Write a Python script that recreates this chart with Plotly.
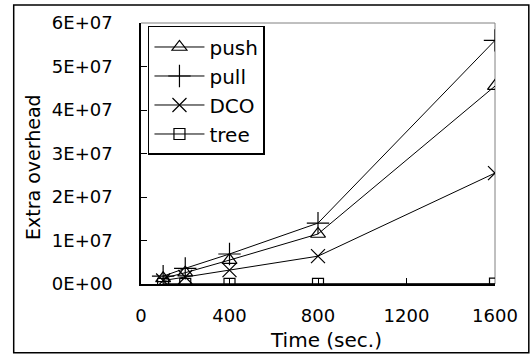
import plotly.graph_objects as go

times = [100, 200, 400, 800, 1600]
push = [1.3e6, 2.6e6, 5.5e6, 11.5e6, 45.5e6]
pull = [1.8e6, 3.6e6, 6.9e6, 14.0e6, 56.0e6]
dco = [0.8e6, 1.6e6, 3.2e6, 6.4e6, 25.5e6]
tree = [0.05e6, 0.05e6, 0.05e6, 0.05e6, 0.08e6]

series_names = ["push", "pull", "DCO", "tree"]
series_vals = [push, pull, dco, tree]
symbols = ["triangle-up-open", "cross-thin-open", "x-thin-open", "square-open"]
sizes = [13, 16, 14, 11]

x_ticks = [0, 400, 800, 1200, 1600]
y_ticks = [0, 1e7, 2e7, 3e7, 4e7, 5e7, 6e7]
y_tick_labels = ["0E+00", "1E+07", "2E+07", "3E+07", "4E+07", "5E+07", "6E+07"]

FONT = "DejaVu Sans"

fig = go.Figure()
for name, vals, sym, sz in zip(series_names, series_vals, symbols, sizes):
    fig.add_trace(go.Scatter(
        x=times, y=vals, name=name, mode="lines+markers",
        line=dict(color="black", width=1),
        marker=dict(symbol=sym, size=sz, color="black",
                    line=dict(color="black", width=1.2)),
    ))

fig.update_layout(
    width=530, height=356,
    margin=dict(l=141, r=33, t=22, b=72),
    paper_bgcolor="white", plot_bgcolor="white",
    font=dict(family=FONT, color="black", size=18),
    showlegend=True,
    legend=dict(
        x=(148 - 141) / 356, y=(284 - 25) / 262, xanchor="left", yanchor="top",
        bgcolor="white", bordercolor="black", borderwidth=1.5,
        font=dict(family=FONT, size=20, color="black"),
        itemwidth=50,
    ),
    xaxis=dict(
        range=[0, 1600], tickvals=x_ticks, ticks="inside", ticklen=6,
        tickcolor="black", showline=True, linecolor="black", linewidth=1.5,
        showgrid=False, zeroline=False, ticklabelstandoff=15,
        tickfont=dict(family=FONT, size=18),
    ),
    yaxis=dict(
        range=[0, 6e7], tickvals=y_ticks, ticktext=y_tick_labels,
        ticks="inside", ticklen=6, tickcolor="black",
        showline=True, linecolor="black", linewidth=1.5,
        showgrid=False, zeroline=False, ticklabelstandoff=23,
        tickfont=dict(family=FONT, size=18),
    ),
    shapes=[
        dict(type="line", xref="paper", yref="paper", x0=0, x1=1, y0=1, y1=1,
             line=dict(color="#808080", width=1), layer="below"),
        dict(type="line", xref="paper", yref="paper", x0=1, x1=1, y0=0, y1=1,
             line=dict(color="#808080", width=1), layer="below"),
        dict(type="rect", xref="paper", yref="paper",
             x0=-0.3596, x1=1.0955, y0=-0.2634, y1=1.0687,
             line=dict(color="black", width=1.5)),
    ],
    annotations=[
        dict(text="Time (sec.)", xref="paper", yref="paper",
             x=(327 - 141) / 356, y=(284 - 340) / 262,
             xanchor="center", yanchor="middle", showarrow=False,
             font=dict(family=FONT, size=20)),
        dict(text="Extra overhead", xref="paper", yref="paper",
             x=(33 - 141) / 356, y=(284 - 167) / 262, textangle=-90,
             xanchor="center", yanchor="middle", showarrow=False,
             font=dict(family=FONT, size=19)),
    ],
)

fig.write_html("out.html", config={"displayModeBar": False},
               post_script="document.body.style.margin='0';document.body.style.overflow='hidden';")
